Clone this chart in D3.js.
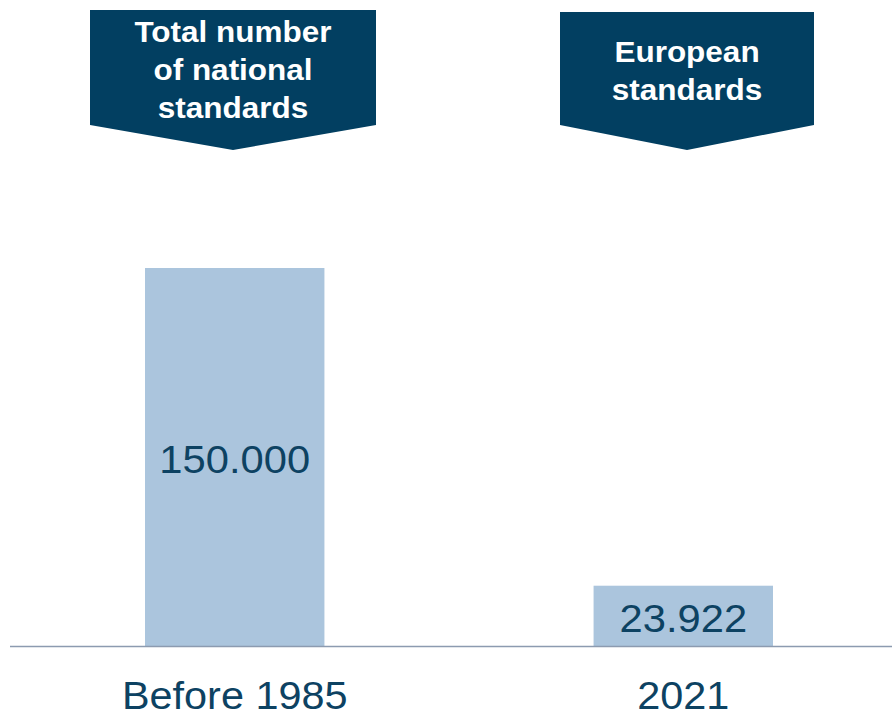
<!DOCTYPE html>
<html>
<head>
<meta charset="utf-8">
<script src="https://cdn.jsdelivr.net/npm/d3@7"></script>
<style>
  body { margin: 0; background: #fff; overflow: hidden; }
  text { font-family: "Liberation Sans", Arial, sans-serif; }
</style>
</head>
<body>
<svg></svg>
<script>
// data
const categories = ['Before 1985', '2021'];
const values = [150000, 23922];
const valueLabels = ['150.000', '23.922'];
const headers = [['Total number', 'of national', 'standards'], ['European', 'standards']];

const size = {w: 892, h: 715};
const baseY = 646;
const svg = d3.select('svg')
    .attr('width', size.w)
    .attr('height', size.h)
    .style('display', 'block');

const x = d3.scaleBand()
    .domain(categories)
    .range([145, 773])
    .paddingInner(0.6)
    .paddingOuter(0);

const y = d3.scaleLinear()
    .domain([0, 150000])
    .range([baseY, 268]);

const navy = '#023f61';
const textCol = '#0d4262';

// bars
svg.selectAll('rect.bar')
    .data(values)
    .join('rect')
    .attr('class', 'bar')
    .attr('x', (d, i) => x(categories[i]))
    .attr('y', d => y(d))
    .attr('width', x.bandwidth())
    .attr('height', d => baseY - y(d))
    .attr('fill', '#abc5dd');

// axis line
svg.append('line')
    .attr('x1', 10).attr('x2', size.w)
    .attr('y1', baseY + 0.5).attr('y2', baseY + 0.5)
    .attr('stroke', '#8c9bb0')
    .attr('stroke-width', 1.5);

// value labels inside bars (text in the source is a bit wide, so stretch it)
svg.selectAll('text.val')
    .data(valueLabels)
    .join('text')
    .attr('class', 'val')
    .attr('transform', (d, i) => {
        const cx = x(categories[i]) + x.bandwidth() / 2;
        const ty = (y(values[i]) + baseY) / 2 + 16;
        return `translate(${cx},${ty}) scale(1.07,1)`;
    })
    .attr('text-anchor', 'middle')
    .attr('font-size', 39)
    .attr('fill', textCol)
    .text(d => d);

// category labels
svg.selectAll('text.cat')
    .data(categories)
    .join('text')
    .attr('class', 'cat')
    .attr('transform', d => `translate(${x(d) + x.bandwidth() / 2},709) scale(1.09,1)`)
    .attr('text-anchor', 'middle')
    .attr('font-size', 38)
    .attr('fill', textCol)
    .text(d => d);

// header banners (arrow shapes)
const banners = [
    {cx: 233, w: 286, top: 10, firstY: 42},
    {cx: 687, w: 254, top: 12, firstY: 62}
];

banners.forEach(function(b, i) {
    const l = b.cx - b.w / 2, r = b.cx + b.w / 2;
    const pts = [[l, b.top], [r, b.top], [r, 125], [b.cx, 150], [l, 125]];
    svg.append('path')
        .attr('d', d3.line()(pts) + 'Z')
        .attr('fill', navy);

    const lh = 38;
    svg.append('g').selectAll('text')
        .data(headers[i])
        .join('text')
        .attr('transform', (d, j) => `translate(${b.cx},${b.firstY + j * lh}) scale(1.05,1)`)
        .attr('text-anchor', 'middle')
        .attr('font-size', 30)
        .attr('font-weight', 'bold')
        .attr('fill', '#fff')
        .text(d => d);
});
</script>
</body>
</html>
